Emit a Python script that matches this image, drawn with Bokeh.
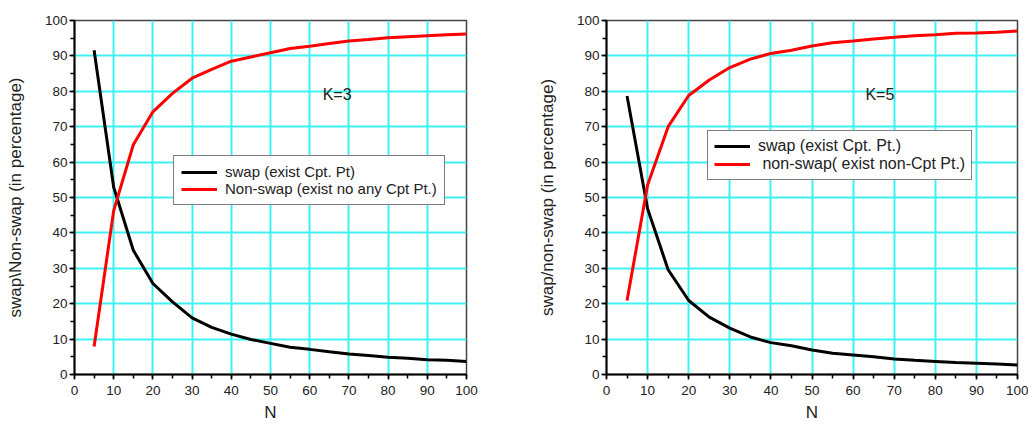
from bokeh.plotting import figure
from bokeh.layouts import row
from bokeh.models import Legend, LegendItem, FixedTicker, Range1d, Label
from bokeh.embed import file_html
from bokeh.resources import INLINE

N = [5, 10, 15, 20, 25, 30, 35, 40, 45, 50, 55, 60, 65, 70, 75, 80, 85, 90, 95, 100]

k3_swap = [91.6, 52.9, 35.1, 25.7, 20.5, 16.0, 13.3, 11.4, 9.9, 8.8, 7.7, 7.1, 6.4, 5.8, 5.4, 4.9, 4.6, 4.2, 4.0, 3.7]
k3_nonswap = [7.9, 46.3, 64.9, 74.2, 79.4, 83.7, 86.2, 88.5, 89.7, 90.9, 92.1, 92.7, 93.5, 94.2, 94.6, 95.1, 95.4, 95.7, 96.0, 96.2]

k5_swap = [78.7, 46.8, 29.6, 20.9, 16.2, 13.1, 10.6, 9.0, 8.1, 6.9, 6.0, 5.5, 5.0, 4.4, 4.0, 3.7, 3.4, 3.2, 3.0, 2.7]
k5_nonswap = [20.9, 53.5, 70.0, 78.8, 83.2, 86.7, 89.1, 90.7, 91.6, 92.8, 93.7, 94.2, 94.8, 95.3, 95.7, 96.0, 96.4, 96.5, 96.7, 97.0]

left_ylabel = "swap\\Non-swap (in percentage)"
right_ylabel = "swap/non-swap (in percentage)"
left_legend = ["swap (exist Cpt. Pt)", "Non-swap (exist no any Cpt Pt.)"]
right_legend = ["swap (exist Cpt. Pt.)", " non-swap( exist non-Cpt Pt.)"]
left_tag = "K=3"
right_tag = "K=5"

FONT = "Liberation Sans"
GRID = "#3ef2f2"


def make(width, height, bl, br, bt, bb, ylabel, swap, nonswap, labels, tag, leg_xy, tag_xy, leg_font, leg_pad):
    p = figure(width=width, height=height, output_backend="svg", toolbar_location=None,
               x_range=Range1d(0, 100), y_range=Range1d(0, 100),
               min_border_left=bl, min_border_right=br, min_border_top=bt, min_border_bottom=bb)
    p.background_fill_color = "white"
    p.border_fill_color = "white"
    p.outline_line_color = "#444444"
    p.outline_line_width = 1.5

    for ax in (p.xaxis[0], p.yaxis[0]):
        ax.ticker = FixedTicker(ticks=list(range(0, 101, 10)), minor_ticks=list(range(0, 101, 5)))
        ax.axis_line_color = "black"
        ax.axis_line_width = 2
        ax.major_tick_line_color = "black"
        ax.major_tick_line_width = 1.5
        ax.minor_tick_line_color = "black"
        ax.minor_tick_line_width = 1.5
        ax.major_tick_in = 0
        ax.major_tick_out = 5
        ax.minor_tick_in = 0
        ax.minor_tick_out = 4
        ax.major_label_text_font = FONT
        ax.major_label_text_font_size = "13.5px"
        ax.major_label_text_color = "#222222"
        ax.axis_label_text_font = FONT
        ax.axis_label_text_font_size = "17px"
        ax.axis_label_text_font_style = "normal"
        ax.axis_label_text_color = "#222222"
    p.xaxis.axis_label = "N"
    p.xaxis.axis_label_standoff = 5
    p.xaxis.major_label_standoff = 6
    p.yaxis.axis_label = ylabel
    p.yaxis.axis_label_standoff = 17
    p.yaxis.major_label_standoff = 2

    p.xgrid.ticker = FixedTicker(ticks=list(range(0, 101, 10)))
    p.ygrid.ticker = FixedTicker(ticks=list(range(0, 101, 10)))
    p.grid.grid_line_color = GRID
    p.grid.grid_line_width = 2

    r1 = p.line(N, swap, line_color="black", line_width=3)
    r2 = p.line(N, nonswap, line_color="#ff0000", line_width=3)

    leg = Legend(items=[LegendItem(label=labels[0], renderers=[r1]),
                        LegendItem(label=labels[1], renderers=[r2])],
                 location=leg_xy, margin=0, padding=leg_pad, spacing=0,
                 label_height=16, glyph_height=16, glyph_width=36, label_standoff=8,
                 border_line_color="black", border_line_width=1.5,
                 background_fill_color="white", background_fill_alpha=1,
                 label_text_font=FONT, label_text_font_size=leg_font, label_text_color="#222222")
    p.add_layout(leg)

    p.add_layout(Label(x=tag_xy[0], y=tag_xy[1], text=tag, text_font=FONT, text_font_size="16px",
                       text_color="#222222", text_baseline="middle", text_align="left"))
    return p


p1 = make(518, 425, 74, 52, 20, 50, left_ylabel, k3_swap, k3_nonswap, left_legend, left_tag,
          (99, 169), (63.3, 79), "15px", 7)
p2 = make(510, 425, 88, 11, 17, 51, right_ylabel, k5_swap, k5_nonswap, right_legend, right_tag,
          (101, 194), (63.0, 79), "16px", 6)

layout = row(p1, p2)
open("out.html", "w").write(file_html(layout, INLINE))
